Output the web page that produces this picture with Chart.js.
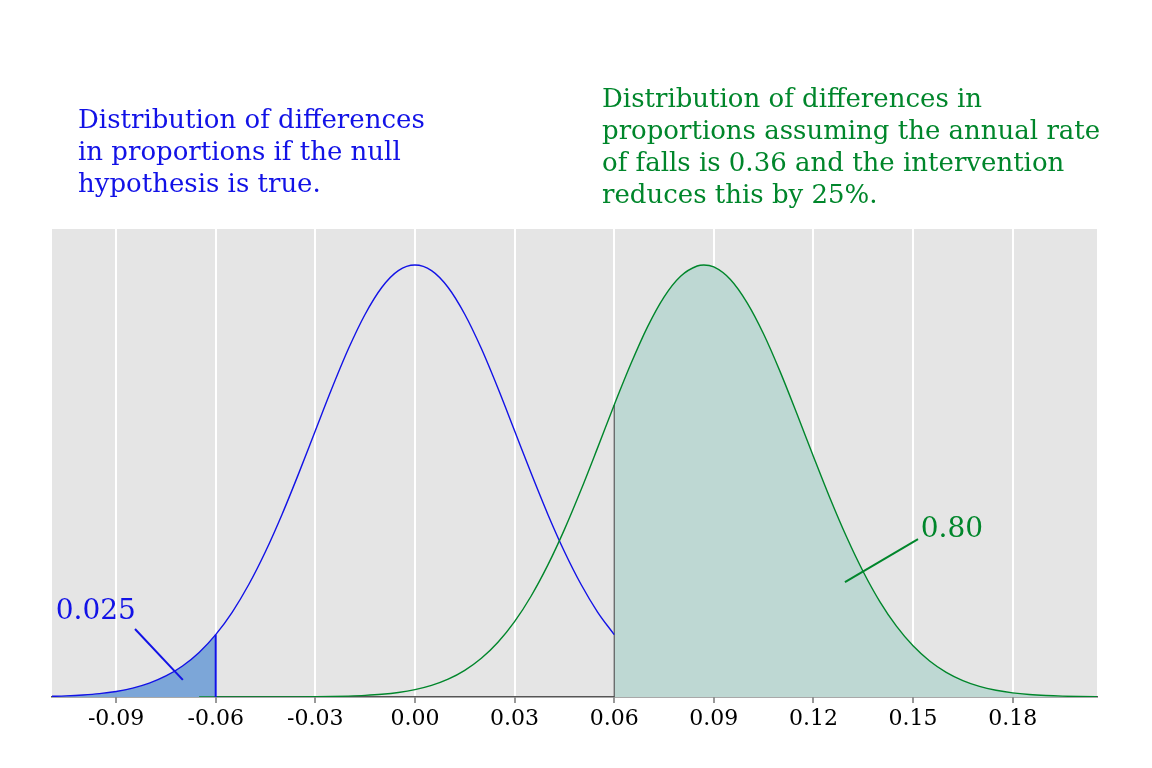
<!DOCTYPE html>
<html>
<head>
<meta charset="utf-8">
<script src="https://cdn.jsdelivr.net/npm/chart.js@4.4.0/dist/chart.umd.min.js"></script>
<style>
  html, body { margin: 0; padding: 0; background: #fff; }
  canvas { display: block; }
</style>
</head>
<body>
<canvas id="chart" width="1152" height="768"></canvas>
<script>
// x grid and heights of the null distribution
const nullX = [-0.110, -0.105, -0.100, -0.095, -0.090, -0.085, -0.080, -0.075, -0.070, -0.065,
  -0.060, -0.055, -0.050, -0.045, -0.040, -0.035, -0.030, -0.025, -0.020, -0.015, -0.010, -0.005,
  0.000, 0.005, 0.010, 0.015, 0.020, 0.025, 0.030, 0.035, 0.040, 0.045, 0.050, 0.055, 0.060];
const nullY = [0.020, 0.035, 0.061, 0.102, 0.168, 0.269, 0.419, 0.636, 0.939, 1.350,
  1.889, 2.573, 3.413, 4.405, 5.535, 6.771, 8.064, 9.348, 10.55, 11.59, 12.40, 12.91,
  13.08, 12.91, 12.40, 11.59, 10.55, 9.348, 8.064, 6.771, 5.535, 4.405, 3.413, 2.573, 1.889];

// alternative distribution (intervention reduces rate by 25%)
const altX = [-0.065, -0.060, -0.055, -0.050, -0.045, -0.040, -0.035, -0.030, -0.025, -0.020,
  -0.015, -0.010, -0.005, 0.000, 0.005, 0.010, 0.015, 0.020, 0.025, 0.030, 0.035, 0.040,
  0.045, 0.050, 0.055, 0.060, 0.065, 0.070, 0.075, 0.080, 0.085, 0.087, 0.090, 0.095, 0.100,
  0.105, 0.110, 0.115, 0.120, 0.125, 0.130, 0.135, 0.140, 0.145, 0.150, 0.155, 0.160,
  0.165, 0.170, 0.175, 0.180, 0.185, 0.190, 0.195, 0.200, 0.205, 0.210];
const altY = [0.000, 0.000, 0.000, 0.001, 0.001, 0.002, 0.004, 0.008, 0.015, 0.028,
  0.049, 0.083, 0.138, 0.224, 0.352, 0.540, 0.807, 1.171, 1.657, 2.281, 3.058, 3.991,
  5.068, 6.266, 7.543, 8.841, 10.08, 11.20, 12.11, 12.74, 13.05, 13.08, 13.02, 12.64, 11.94,
  10.99, 9.844, 8.582, 7.284, 6.018, 4.842, 3.792, 2.889, 2.145, 1.550, 1.090, 0.746,
  0.497, 0.322, 0.204, 0.125, 0.075, 0.044, 0.025, 0.014, 0.007, 0.004];

const lowerCut = -0.06;
const upperCut = 0.06;

const xTicks = [-0.09, -0.06, -0.03, 0.00, 0.03, 0.06, 0.09, 0.12, 0.15, 0.18];

// annotation labels and their leader lines
const annoText = ['0.025', '0.80'];
const annoX = [-0.0961, 0.1617];
const annoY = [2.57, 5.06];
const leaderFrom = [[-0.0843, 2.06], [0.1515, 4.78]];
const leaderTo = [[-0.0699, 0.52], [0.1295, 3.48]];

const blueTitle = ['Distribution of differences', 'in proportions if the null', 'hypothesis is true.'];
const greenTitle = ['Distribution of differences in', 'proportions assuming the annual rate',
  'of falls is 0.36 and the intervention', 'reduces this by 25%.'];

const BLUE = '#1212e6';
const GREEN = '#00862b';
const SERIF = '"DejaVu Serif", serif';

const toPoints = (xs, ys) => xs.map((x, i) => ({ x: x, y: ys[i] }));
const nullPts = toPoints(nullX, nullY);
const altPts = toPoints(altX, altY);
const lowerH = nullY[nullX.indexOf(lowerCut)];
const upperH = altY[altX.indexOf(upperCut)];

const bgPlugin = {
  id: 'panelBg',
  beforeDraw(chart) {
    const { ctx, chartArea: a } = chart;
    ctx.save();
    ctx.fillStyle = '#fff';
    ctx.fillRect(0, 0, chart.width, chart.height);
    ctx.fillStyle = '#e5e5e5';
    ctx.fillRect(a.left, a.top, a.right - a.left, a.bottom - a.top);
    ctx.restore();
  }
};

const textPlugin = {
  id: 'texts',
  afterDraw(chart) {
    const ctx = chart.ctx;
    const xs = chart.scales.x, ys = chart.scales.y;
    ctx.save();
    ctx.textBaseline = 'middle';
    ctx.textAlign = 'left';
    ctx.font = '26px ' + SERIF;
    ctx.fillStyle = BLUE;
    blueTitle.forEach((t, i) => ctx.fillText(t, 78, 121 + i * 32));
    ctx.fillStyle = GREEN;
    greenTitle.forEach((t, i) => ctx.fillText(t, 602, 100 + i * 32));

    ctx.font = '28px ' + SERIF;
    ctx.textAlign = 'center';
    annoText.forEach((t, i) => {
      ctx.fillStyle = i === 0 ? BLUE : GREEN;
      ctx.fillText(t, xs.getPixelForValue(annoX[i]), ys.getPixelForValue(annoY[i]));
    });
    ctx.restore();
  }
};

const segment = (a, b) => [{ x: a[0], y: a[1] }, { x: b[0], y: b[1] }];

const chart = new Chart(document.getElementById('chart').getContext('2d'), {
  type: 'line',
  data: {
    datasets: [
      {
        data: altPts.filter(p => p.x >= upperCut),
        borderWidth: 0, borderColor: 'rgba(0,0,0,0)',
        backgroundColor: '#bed8d3', fill: 'origin',
        cubicInterpolationMode: 'monotone', order: 10
      },
      {
        data: nullPts.filter(p => p.x <= lowerCut),
        borderWidth: 0, borderColor: 'rgba(0,0,0,0)',
        backgroundColor: '#7ca6d8', fill: 'origin',
        cubicInterpolationMode: 'monotone', order: 9
      },
      {
        data: segment([upperCut, 0], [upperCut, upperH]),
        borderColor: '#4d4d4d', borderWidth: 1.2, fill: false, order: 8
      },
      {
        data: nullPts,
        borderColor: BLUE, borderWidth: 1.4, fill: false,
        cubicInterpolationMode: 'monotone', order: 6
      },
      {
        data: altPts,
        borderColor: GREEN, borderWidth: 1.4, fill: false,
        cubicInterpolationMode: 'monotone', order: 5
      },
      {
        data: segment([lowerCut, 0], [lowerCut, lowerH]),
        borderColor: BLUE, borderWidth: 2, fill: false, order: 4
      },
      {
        data: segment(leaderFrom[0], leaderTo[0]),
        borderColor: BLUE, borderWidth: 2, fill: false, order: 2
      },
      {
        data: segment(leaderFrom[1], leaderTo[1]),
        borderColor: GREEN, borderWidth: 2, fill: false, order: 2
      }
    ]
  },
  options: {
    responsive: false,
    animation: false,
    layout: { padding: { left: 52, right: 55, top: 229, bottom: 0 } },
    elements: { point: { radius: 0 }, line: { tension: 0 } },
    plugins: { legend: { display: false }, tooltip: { enabled: false } },
    scales: {
      x: {
        type: 'linear',
        min: -0.1093,
        max: 0.2054,
        afterBuildTicks: (scale) => { scale.ticks = xTicks.map(v => ({ value: v })); },
        afterFit: (scale) => { scale.height = 71; },
        ticks: {
          callback: (v) => v.toFixed(2),
          color: '#000',
          font: { family: SERIF, size: 22 },
          padding: 3,
          maxRotation: 0
        },
        grid: { color: '#ffffff', lineWidth: 2, tickColor: '#999', tickLength: 6 },
        border: { color: '#555', width: 1.5 }
      },
      y: { display: false, min: 0, max: 14.17 }
    }
  },
  plugins: [bgPlugin, textPlugin]
});
</script>
</body>
</html>
